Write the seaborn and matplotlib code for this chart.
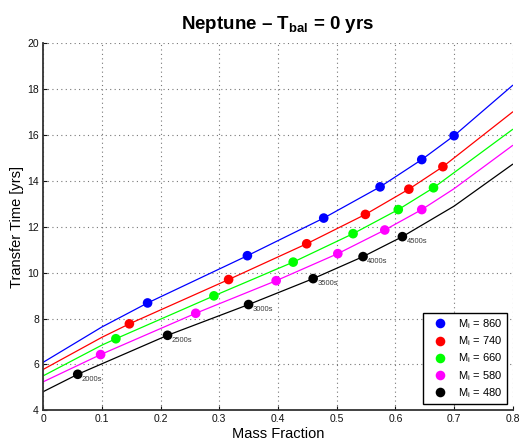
import matplotlib
matplotlib.use("Agg")
import matplotlib.pyplot as plt
import numpy as np
import pandas as pd
import seaborn as sns

# Initial masses, one curve per value
masses = [860, 740, 660, 580, 480]
colors = ["#0000ff", "#ff0000", "#00ff00", "#ff00ff", "#000000"]

# Transfer-time curves (mass fraction vs years)
curve_x_860 = [0.0, 0.1, 0.178, 0.348, 0.478, 0.574, 0.645, 0.700, 0.8]
curve_y_860 = [6.09, 7.63, 8.68, 10.74, 12.38, 13.74, 14.93, 15.97, 18.17]
curve_x_740 = [0.0, 0.1, 0.147, 0.316, 0.449, 0.549, 0.623, 0.681, 0.8]
curve_y_740 = [5.78, 7.18, 7.77, 9.70, 11.26, 12.54, 13.64, 14.62, 17.01]
curve_x_660 = [0.0, 0.1, 0.124, 0.291, 0.426, 0.528, 0.605, 0.665, 0.8]
curve_y_660 = [5.50, 6.84, 7.12, 8.99, 10.46, 11.70, 12.75, 13.70, 16.25]
curve_x_580 = [0.0, 0.098, 0.260, 0.397, 0.502, 0.582, 0.645, 0.700, 0.8]
curve_y_580 = [5.24, 6.43, 8.23, 9.65, 10.83, 11.86, 12.75, 13.66, 15.55]
curve_x_480 = [0.0, 0.059, 0.212, 0.350, 0.460, 0.545, 0.612, 0.700, 0.8]
curve_y_480 = [4.81, 5.57, 7.27, 8.61, 9.74, 10.70, 11.57, 12.90, 14.73]

# Burn-time markers along each curve
mark_x_860 = [0.178, 0.348, 0.478, 0.574, 0.645, 0.700]
mark_y_860 = [8.68, 10.74, 12.38, 13.74, 14.93, 15.97]
mark_x_740 = [0.147, 0.316, 0.449, 0.549, 0.623, 0.681]
mark_y_740 = [7.77, 9.70, 11.26, 12.54, 13.64, 14.62]
mark_x_660 = [0.124, 0.291, 0.426, 0.528, 0.605, 0.665]
mark_y_660 = [7.12, 8.99, 10.46, 11.70, 12.75, 13.70]
mark_x_580 = [0.098, 0.260, 0.397, 0.502, 0.582, 0.645]
mark_y_580 = [6.43, 8.23, 9.65, 10.83, 11.86, 12.75]
mark_x_480 = [0.059, 0.212, 0.350, 0.460, 0.545, 0.612]
mark_y_480 = [5.57, 7.27, 8.61, 9.74, 10.70, 11.57]

burn_labels = ["2000s", "2500s", "3000s", "3500s", "4000s", "4500s"]

x_ticks = [0, 0.1, 0.2, 0.3, 0.4, 0.5, 0.6, 0.7, 0.8]
x_tick_labels = ["0", "0.1", "0.2", "0.3", "0.4", "0.5", "0.6", "0.7", "0.8"]
y_ticks = [4, 6, 8, 10, 12, 14, 16, 18, 20]

curves_x = [curve_x_860, curve_x_740, curve_x_660, curve_x_580, curve_x_480]
curves_y = [curve_y_860, curve_y_740, curve_y_660, curve_y_580, curve_y_480]
marks_x = [mark_x_860, mark_x_740, mark_x_660, mark_x_580, mark_x_480]
marks_y = [mark_y_860, mark_y_740, mark_y_660, mark_y_580, mark_y_480]

labels = [f"M$_\\mathrm{{i}}$ = {m}" for m in masses]

line_df = pd.concat(
    [pd.DataFrame({"frac": cx, "time": cy, "series": lab})
     for cx, cy, lab in zip(curves_x, curves_y, labels)],
    ignore_index=True)
mark_df = pd.concat(
    [pd.DataFrame({"frac": mx, "time": my, "series": lab})
     for mx, my, lab in zip(marks_x, marks_y, labels)],
    ignore_index=True)

sns.set_theme(style="white")
plt.rcParams["font.family"] = ["Liberation Sans", "DejaVu Sans"]
plt.rcParams["mathtext.fontset"] = "custom"
plt.rcParams["mathtext.rm"] = "Liberation Sans"
plt.rcParams["mathtext.it"] = "Liberation Sans:italic"
plt.rcParams["mathtext.bf"] = "Liberation Sans:bold"
plt.rcParams["text.color"] = "black"
plt.rcParams["axes.labelcolor"] = "black"

fig = plt.figure(figsize=(5.19, 4.46), dpi=100)
ax = fig.add_axes([0.083, 0.080, 0.905, 0.823])

palette = dict(zip(labels, colors))

sns.lineplot(data=line_df, x="frac", y="time", hue="series", hue_order=labels,
             palette=palette, sort=False, estimator=None, units="series",
             linewidth=0.9, legend=False, ax=ax)
sns.scatterplot(data=mark_df, x="frac", y="time", hue="series", hue_order=labels,
                palette=palette, s=48, linewidth=0, zorder=5, ax=ax)

for x, y, t in zip(mark_x_480, mark_y_480, burn_labels):
    ax.annotate(t, (x, y), xytext=(2.9, -3.6), textcoords="offset points",
                fontsize=5.5, color="#3a3a3a", ha="left", va="center")

ax.set_xlim(0, 0.8)
ax.set_ylim(4, 20)
ax.set_xticks(x_ticks)
ax.set_xticklabels(x_tick_labels)
ax.set_yticks(y_ticks)
ax.grid(True, linestyle=(0, (1, 3)), color="#777777", linewidth=0.8)
ax.tick_params(direction="in", length=3, width=0.8, labelsize=7.5, pad=3,
               colors="#111111", left=True, bottom=True)
for side in ["top", "right"]:
    ax.spines[side].set_visible(False)
for side in ["left", "bottom"]:
    ax.spines[side].set_color("#333333")
    ax.spines[side].set_linewidth(1.3)

ax.set_xlabel("Mass Fraction", fontsize=10.5, labelpad=2)
ax.set_ylabel("Transfer Time [yrs]", fontsize=10.5, labelpad=2)
ax.set_title("Neptune \u2013 T$_\\mathbf{bal}$ = 0 yrs", fontsize=13.5,
             fontweight="bold", pad=10)

handles, hl = ax.get_legend_handles_labels()
leg = ax.legend(handles, hl, loc="lower right", bbox_to_anchor=(0.988, 0.017),
                borderaxespad=0, fontsize=8, frameon=True, fancybox=False,
                edgecolor="black", framealpha=1, labelspacing=0.3,
                handletextpad=0.6, borderpad=0.4, handlelength=2.2)
leg.get_frame().set_linewidth(1.0)

fig.savefig("out.png", dpi=100)
